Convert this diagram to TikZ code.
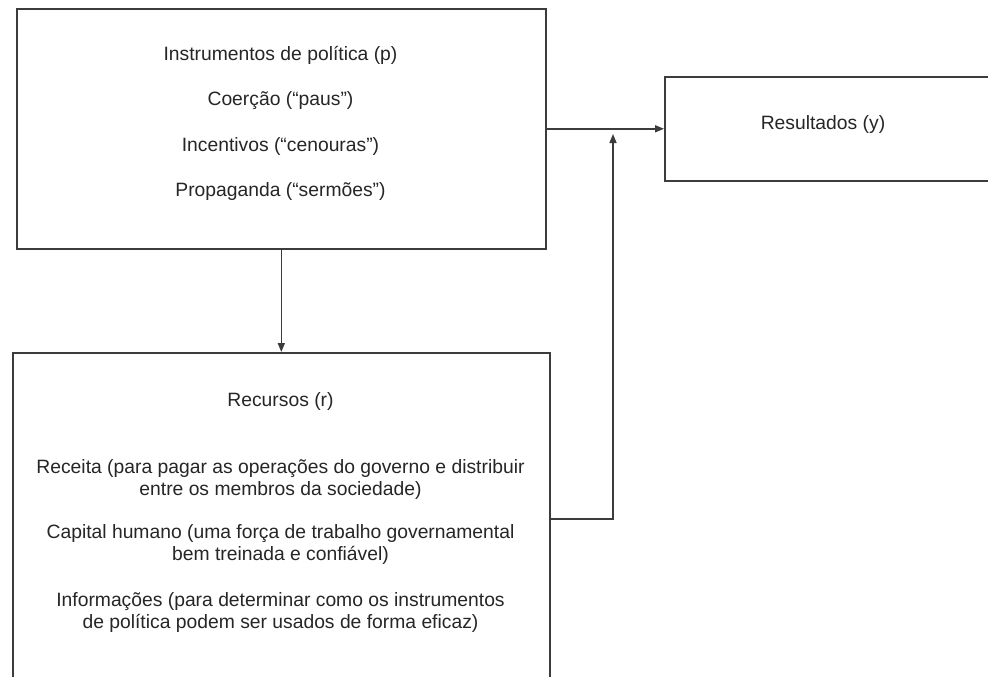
\documentclass[tikz,border=0pt]{standalone}
\usepackage{fontspec}
\setmainfont{Liberation Sans}
\usetikzlibrary{arrows.meta}
\definecolor{linec}{HTML}{3C3C3C}
\definecolor{textc}{HTML}{262626}
\begin{document}
\begin{tikzpicture}[x=1pt,y=-1pt,
  boxst/.style={draw=linec,line width=1.6pt,rectangle,inner sep=0pt,anchor=north west},
  txt/.style={text=textc,anchor=base,inner sep=0pt,font=\fontsize{19.3}{22}\selectfont},
  arr/.style={draw=linec,line width=1.5pt,-{Triangle[length=9pt,width=7pt]}}]
\clip (0,0) rectangle (988,677);
\fill[white] (0,0) rectangle (988,677);
% boxes
\node[boxst,minimum width=529pt,minimum height=240pt] (top) at (16,8) {};
\node[boxst,minimum width=537pt,minimum height=332pt] (bot) at (12,352) {};
\node[boxst,minimum width=340pt,minimum height=104pt] (res) at (664,76) {};
% texts top box
\node[txt] (t1) at (280.5,61) {Instrumentos de política (p)};
\node[txt] (t2) at (280.5,106) {Coerção (“paus”)};
\node[txt] (t3) at (280.5,151) {Incentivos (“cenouras”)};
\node[txt] (t4) at (280.5,196) {Propaganda (“sermões”)};
% texts bottom box
\node[txt] (b1) at (280.5,406) {Recursos (r)};
\node[txt] (b2) at (280.5,473) {Receita (para pagar as operações do governo e distribuir};
\node[txt] (b3) at (280.5,495) {entre os membros da sociedade)};
\node[txt] (b4) at (280.5,538) {Capital humano (uma força de trabalho governamental};
\node[txt] (b5) at (280.5,560) {bem treinada e confiável)};
\node[txt] (b6) at (280.5,606) {Informações (para determinar como os instrumentos};
\node[txt] (b7) at (280.5,628) {de política podem ser usados de forma eficaz)};
% result text
\node[txt] (r1) at (823,129) {Resultados (y)};
% connectors
\coordinate (tip) at (613,134);
\draw[arr] (top.south) -- (bot.north);
\draw[arr] (top.east) -- (res.west);
\draw[arr] (bot.east) -| (tip);
\end{tikzpicture}
\end{document}
